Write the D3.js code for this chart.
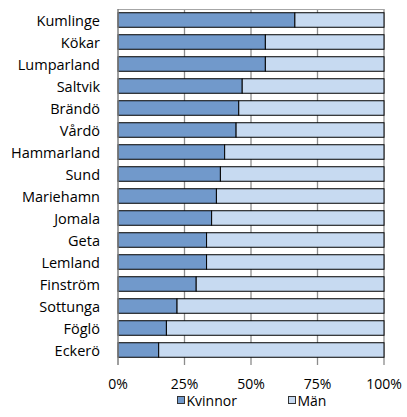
<!DOCTYPE html>
<html>
<head>
<meta charset="utf-8">
<script src="https://cdn.jsdelivr.net/npm/d3@7"></script>
<style>
  html, body { margin: 0; padding: 0; background: #fff; }
  text { font-family: "Open Sans", "Liberation Sans", sans-serif; fill: #000; }
</style>
</head>
<body>
<svg id="chart" width="407" height="417"></svg>
<script>
// Share of women (Kvinnor) per municipality; men (Män) make up the rest.
const municipalities = ["Kumlinge", "Kökar", "Lumparland", "Saltvik", "Brändö", "Vårdö",
  "Hammarland", "Sund", "Mariehamn", "Jomala", "Geta", "Lemland", "Finström",
  "Sottunga", "Föglö", "Eckerö"];
const kvinnor = [0.665, 0.554, 0.554, 0.467, 0.454, 0.444, 0.401, 0.385, 0.370,
  0.352, 0.333, 0.333, 0.294, 0.222, 0.182, 0.153];
const man = kvinnor.map(v => 1 - v);
const seriesNames = ["Kvinnor", "Män"];
const tickValues = [0, 0.25, 0.5, 0.75, 1];

const colors = { Kvinnor: "#7199cb", "Män": "#c7daf1" };

const svg = d3.select("#chart");
const margin = { left: 118, right: 23, top: 9, bottom: 56 };
const W = 407, H = 417;
const x = d3.scaleLinear().domain([0, 1]).range([margin.left, W - margin.right]);
const y = d3.scaleBand().domain(municipalities)
  .range([margin.top, H - margin.bottom]).paddingInner(0.34).paddingOuter(0.17);

// gridlines and plot frame
const grid = svg.append("g");
grid.selectAll("line").data(tickValues.slice(1)).join("line")
  .attr("x1", d => x(d)).attr("x2", d => x(d))
  .attr("y1", margin.top).attr("y2", H - margin.bottom + 4)
  .attr("stroke", "#8c8c8c").attr("stroke-width", 1.3);
grid.append("line")
  .attr("x1", x(0)).attr("x2", x(1))
  .attr("y1", margin.top + 0.5).attr("y2", margin.top + 0.5)
  .attr("stroke", "#a6a6a6").attr("stroke-width", 1);

// stacked bars
const rows = municipalities.map((m, i) => ({ name: m, Kvinnor: kvinnor[i], "Män": man[i] }));
const stacked = d3.stack().keys(seriesNames)(rows);
svg.append("g").selectAll("g").data(stacked).join("g")
  .attr("fill", d => colors[d.key])
  .selectAll("rect").data(d => d).join("rect")
  .attr("x", d => x(d[0]))
  .attr("width", d => x(d[1]) - x(d[0]))
  .attr("y", d => y(d.data.name))
  .attr("height", y.bandwidth())
  .attr("stroke", "#000").attr("stroke-width", 1);

// left axis line
svg.append("line")
  .attr("x1", x(0)).attr("x2", x(0))
  .attr("y1", margin.top).attr("y2", H - margin.bottom + 4)
  .attr("stroke", "#7f7f7f").attr("stroke-width", 1.5);

// category labels
svg.append("g").selectAll("text").data(municipalities).join("text")
  .attr("x", 100)
  .attr("y", d => y(d) + y.bandwidth() / 2)
  .attr("text-anchor", "end")
  .attr("dominant-baseline", "central")
  .style("font-size", "14.5px")
  .text(d => d);

// percentage tick labels
svg.append("g").selectAll("text").data(tickValues).join("text")
  .attr("x", d => x(d))
  .attr("y", 383)
  .attr("text-anchor", "middle")
  .attr("dominant-baseline", "central")
  .style("font-size", "14px")
  .text(d => d3.format(".0%")(d));

// legend
const legendX = [177, 288];
const legend = svg.append("g").selectAll("g").data(seriesNames).join("g")
  .attr("transform", (d, i) => `translate(${legendX[i]},400)`);
legend.append("rect")
  .attr("x", 0.5).attr("y", -3.5).attr("width", 7).attr("height", 7)
  .attr("fill", d => colors[d]).attr("stroke", "#333").attr("stroke-width", 1);
legend.append("text")
  .attr("x", 9.5).attr("y", 0.5)
  .attr("dominant-baseline", "central")
  .style("font-size", "14px")
  .text(d => d);
</script>
</body>
</html>
